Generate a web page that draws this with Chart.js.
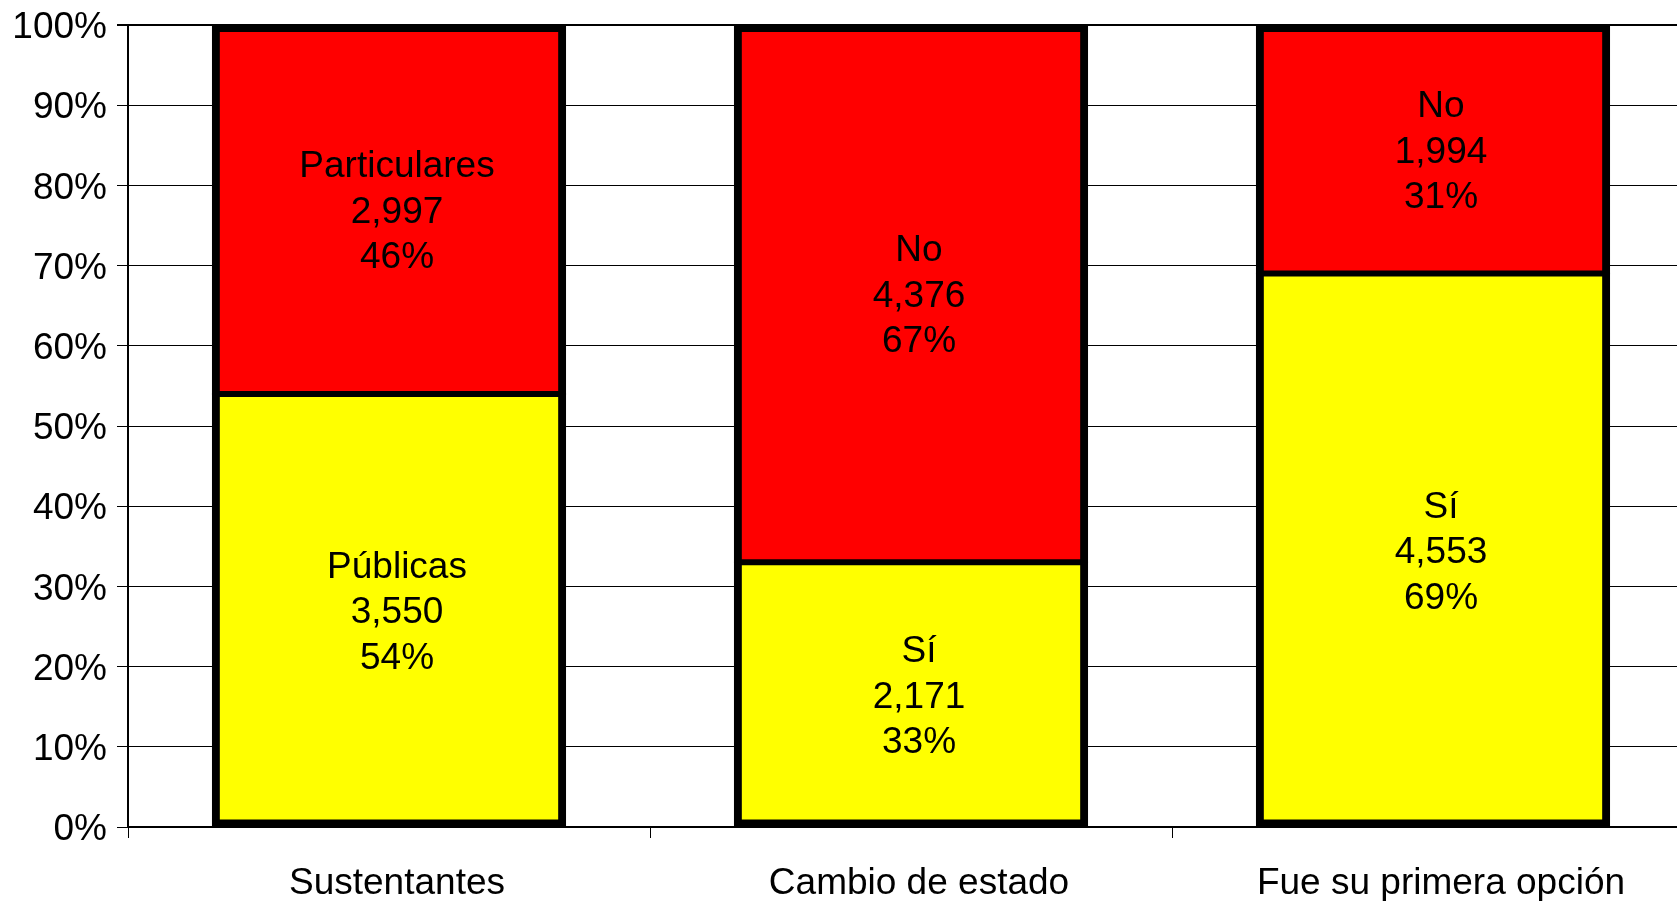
<!DOCTYPE html>
<html>
<head>
<meta charset="utf-8">
<script src="https://cdn.jsdelivr.net/npm/chart.js@4"></script>
<style>
  html, body { margin: 0; padding: 0; overflow: hidden; background: #fff; }
  #wrap { width: 1694px; height: 901px; }
</style>
</head>
<body>
<div id="wrap"><canvas id="stack-chart"></canvas></div>
<script>
// data
var categories = ["Sustentantes", "Cambio de estado", "Fue su primera opción"];
var lowerNames = ["Públicas", "Sí", "Sí"];
var upperNames = ["Particulares", "No", "No"];
var lowerCounts = [3550, 2171, 4553];
var upperCounts = [2997, 4376, 1994];
var lowerPct = [54, 33, 69];
var upperPct = [46, 67, 31];

var FONT = "'Liberation Sans', Arial, sans-serif";

// three-line labels in the middle of each segment
var segmentLabels = {
  id: "segmentLabels",
  afterDatasetsDraw: function (chart) {
    var ctx = chart.ctx;
    ctx.save();
    ctx.font = "37px " + FONT;
    ctx.fillStyle = "#000";
    ctx.textAlign = "center";
    ctx.textBaseline = "middle";
    chart.data.datasets.forEach(function (ds, i) {
      chart.getDatasetMeta(i).data.forEach(function (bar, j) {
        var cy = (bar.y + bar.base) / 2 + 3;
        var lines = [ds.names[j], ds.counts[j].toLocaleString("en-US"), ds.data[j] + "%"];
        lines.forEach(function (t, k) {
          ctx.fillText(t, bar.x + 8, cy + (k - 1) * 45.5);
        });
      });
    });
    ctx.restore();
  }
};

var ctx = document.getElementById("stack-chart");
new Chart(ctx, {
  type: "bar",
  data: {
    labels: categories,
    datasets: [
      {
        data: lowerPct,
        names: lowerNames,
        counts: lowerCounts,
        backgroundColor: "#ffff00",
        borderColor: "#000",
        borderWidth: { top: 4, left: 8, right: 8, bottom: 8 },
        borderSkipped: false,
        inflateAmount: 1,
      },
      {
        data: upperPct,
        names: upperNames,
        counts: upperCounts,
        backgroundColor: "#ff0000",
        borderColor: "#000",
        borderWidth: { top: 8, left: 8, right: 8, bottom: 4 },
        borderSkipped: false,
        inflateAmount: 1,
      },
    ],
  },
  options: {
    responsive: true,
    maintainAspectRatio: false,
    animation: false,
    categoryPercentage: 1,
    barPercentage: 0.675,
    layout: { padding: { top: 25, right: 0, bottom: 0, left: 0 } },
    plugins: {
      legend: { display: false },
      tooltip: { enabled: false },
    },
    scales: {
      x: {
        stacked: true,
        offset: true,
        grid: {
          offset: true,
          drawOnChartArea: false,
          drawTicks: true,
          tickLength: 11,
          color: "#000",
          lineWidth: 1,
        },
        border: { color: "#000", width: 2 },
        ticks: {
          color: "#000",
          padding: 24,
          labelOffset: 8,
          font: { size: 37, family: FONT },
        },
        afterFit: function (scale) {
          scale.height = 74;
        },
      },
      y: {
        stacked: true,
        min: 0,
        max: 100,
        grid: {
          color: "#000",
          lineWidth: function (c) {
            return c.tick && c.tick.value === 100 ? 2 : 1;
          },
          tickLength: 11,
        },
        border: { color: "#000", width: 2 },
        ticks: {
          stepSize: 10,
          color: "#000",
          padding: 10,
          labelOffset: 3,
          font: { size: 37, family: FONT },
          callback: function (v) {
            return v + "%";
          },
        },
        afterFit: function (scale) {
          scale.width = 128;
          scale.paddingTop = 0;
          scale.paddingBottom = 0;
        },
      },
    },
  },
  plugins: [segmentLabels],
});
</script>
</body>
</html>
